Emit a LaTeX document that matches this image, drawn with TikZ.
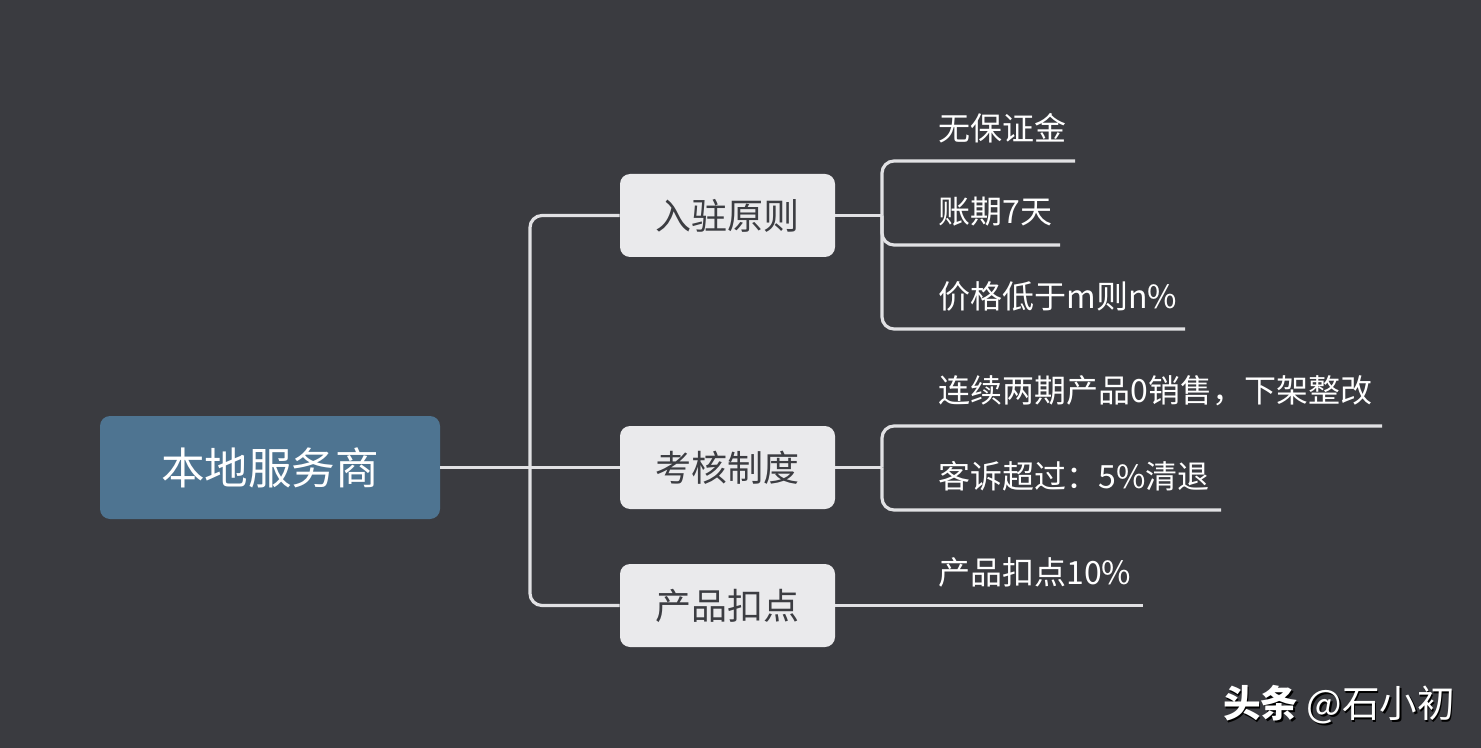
\documentclass[tikz,border=0pt]{standalone}
\usepackage{fontspec}
\setmainfont{Noto Sans CJK SC}
\definecolor{bg}{RGB}{58,59,64}
\definecolor{rootc}{RGB}{78,116,145}
\definecolor{midc}{RGB}{234,234,236}
\definecolor{midtext}{RGB}{60,61,66}
\definecolor{linec}{RGB}{225,225,228}
\begin{document}
\begin{tikzpicture}[x=0.5pt,y=-0.5pt,
  rootbox/.style={fill=rootc, rounded corners=5pt, minimum width=170pt, minimum height=51.5pt, inner sep=0pt, text=white, font=\fontsize{21.8}{25}\selectfont},
  midbox/.style={fill=midc, rounded corners=5pt, minimum width=107.5pt, minimum height=41.5pt, inner sep=0pt, text=midtext, font=\fontsize{18}{22}\selectfont},
  leaf/.style={text=white, anchor=west, inner sep=0pt, font=\fontsize{16}{19}\selectfont},
  conn/.style={draw=linec, line width=1.6pt, rounded corners=6pt}]
\fill[bg] (0,0) rectangle (1481,748);
\useasboundingbox (0,0) rectangle (1481,748);

% nodes
\node[rootbox] (root) at (270,467.5) {本地服务商};
\node[midbox] (m1) at (727.5,215.5) {入驻原则};
\node[midbox] (m2) at (727.5,467.5) {考核制度};
\node[midbox] (m3) at (727.5,605.5) {产品扣点};

\node[leaf] (t1) at (938,128) {无保证金};
\node[leaf] (t2) at (938,212) {账期7天};
\node[leaf] (t3) at (938,296) {价格低于m则n\%};
\node[leaf] (t4) at (938,391) {连续两期产品0销售，下架整改};
\node[leaf] (t5) at (938,476) {客诉超过：5\%清退};
\node[leaf] (t6) at (938,572) {产品扣点10\%};

% coordinates
\coordinate (tr) at (530,467.5);
\coordinate (b1) at (882,215.5);
\coordinate (b2) at (882,467.5);
\coordinate (e1) at (1075,161);
\coordinate (e2) at (1060,245);
\coordinate (e3) at (1185,329);
\coordinate (e4) at (1382,426);
\coordinate (e5) at (1221,510);
\coordinate (e6) at (1143,605.5);

% connectors
\draw[conn] (root.east) -- (m2.west);
\draw[conn] (m1.west) -| (tr) |- (m3.west);
\draw[conn] (m1.east) -- (b1);
\draw[conn] (b1) |- (e1);
\draw[conn] (b1) |- (e2);
\draw[conn] (b1) |- (e3);
\draw[conn] (m2.east) -- (b2);
\draw[conn] (b2) |- (e4);
\draw[conn] (b2) |- (e5);
\draw[conn] (m3.east) -- (e6);

% watermark
\node[text=black, font=\fontsize{18.8}{22}\selectfont, inner sep=0pt] (wms) at (1340.5,706.5) {{\bfseries 头条} @石小初};
\node[text=white, font=\fontsize{18.8}{22}\selectfont, inner sep=0pt] (wm) at (1339,705) {{\bfseries 头条} @石小初};
\end{tikzpicture}
\end{document}
